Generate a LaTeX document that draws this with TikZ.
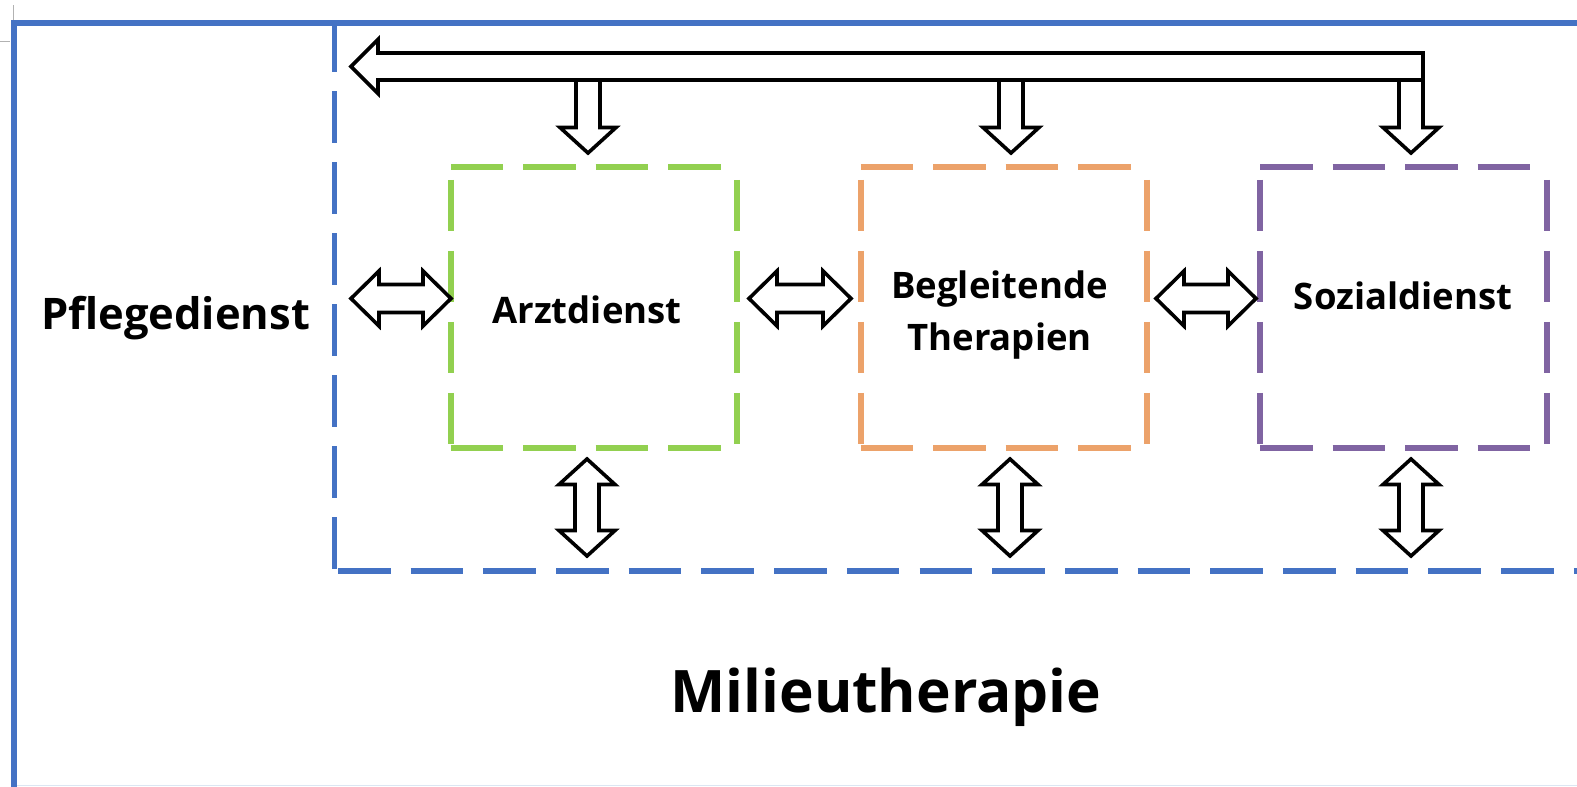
\documentclass[tikz,border=0pt]{standalone}
\usepackage{fontspec}
\setmainfont{Open Sans}
\usetikzlibrary{calc}
\definecolor{oblue}{RGB}{68,114,196}
\definecolor{ogreen}{RGB}{146,208,80}
\definecolor{oorange}{RGB}{236,162,106}
\definecolor{opurple}{RGB}{128,100,162}
\definecolor{faint}{RGB}{220,230,242}
% horizontal double arrow: head length, head half width, shaft half width
\def\ahl{28}\def\ahw{27.5}\def\asw{14}
% vertical arrows
\def\vhl{25.5}\def\vhw{28}\def\vsw{12}
\newcommand\dblH[2]{%
  \draw[blk] (#1) -- ($(#1)+(\ahl,-\ahw)$) -- ($(#1)+(\ahl,-\asw)$) -- ($(#2)+(-\ahl,-\asw)$)
    -- ($(#2)+(-\ahl,-\ahw)$) -- (#2) -- ($(#2)+(-\ahl,\ahw)$) -- ($(#2)+(-\ahl,\asw)$)
    -- ($(#1)+(\ahl,\asw)$) -- ($(#1)+(\ahl,\ahw)$) -- cycle;}
\newcommand\dblV[2]{%
  \draw[blk] (#1) -- ($(#1)+(\vhw,\vhl)$) -- ($(#1)+(\vsw,\vhl)$) -- ($(#2)+(\vsw,-\vhl)$)
    -- ($(#2)+(\vhw,-\vhl)$) -- (#2) -- ($(#2)+(-\vhw,-\vhl)$) -- ($(#2)+(-\vsw,-\vhl)$)
    -- ($(#1)+(-\vsw,\vhl)$) -- ($(#1)+(-\vhw,\vhl)$) -- cycle;}
\newcommand\downArr[2]{%
  \draw[blk] ($(#1)+(-\vsw,0)$) -- ($(#2)+(-\vsw,-\vhl)$) -- ($(#2)+(-\vhw,-\vhl)$) -- (#2)
    -- ($(#2)+(\vhw,-\vhl)$) -- ($(#2)+(\vsw,-\vhl)$) -- ($(#1)+(\vsw,0)$);}
\newcommand\mydashedbox[2]{%
  \draw[#2,hdash] (#1.north west) -- (#1.north east);
  \draw[#2,hdash] (#1.south west) -- (#1.south east);
  \draw[#2,vdash] ($(#1.north west)+(0,12.5)$) -- ($(#1.south west)+(0,-3.5)$);
  \draw[#2,vdash] ($(#1.north east)+(0,12.5)$) -- ($(#1.south east)+(0,-3.5)$);}
\begin{document}
\begin{tikzpicture}[x=1pt,y=-1pt,line cap=butt,
  hdash/.style={line width=6pt,dash pattern=on 52.6pt off 19.8pt},
  vdash/.style={line width=6pt,dash pattern=on 51.5pt off 19.5pt},
  blk/.style={draw=black,fill=white,line width=3.6pt,line join=miter},
  lbl/.style={font=\bfseries\fontsize{36.5}{52}\selectfont,inner sep=0pt,anchor=base},
  boxn/.style={minimum width=286pt,minimum height=280.5pt,inner sep=0pt,draw=none}]
\clip (0,0) rectangle (1577,787);
\fill[white] (0,0) rectangle (1577,787);
% page marks
\draw[gray!60,line width=1pt] (13.5,5) -- (13.5,20);
\draw[gray!60,line width=1pt] (0,41) -- (10,41);
\draw[faint,line width=1.5pt] (17,785.5) -- (1600,785.5);
% outer frame
\draw[oblue,line width=6pt,line join=miter] (1600,23) -- (14,23) -- (14,800);
% inner dashed area
\draw[oblue,line width=5.5pt,dash pattern=on 51.5pt off 19.5pt] (334.5,20) -- (334.5,571);
\draw[oblue,line width=6pt,dash pattern=on 52.6pt off 20.1pt] (337.9,571) -- (1600,571);
% boxes
\node[boxn] (arzt) at (594,307.75) {};
\node[boxn] (begl) at (1004,307.75) {};
\node[boxn] (sozial) at (1403.5,307.75) {};
\mydashedbox{arzt}{ogreen}
\mydashedbox{begl}{oorange}
\mydashedbox{sozial}{opurple}
% labels
\node[lbl] (arztT) at (587,323) {Arztdienst};
\node[lbl,align=center] (beglT) at (999.5,350) {Begleitende\\Therapien};
\node[lbl] (sozialT) at (1403,309) {Sozialdienst};
\node[lbl,font=\bfseries\fontsize{43.5}{52}\selectfont] (pflege) at (175.5,329.5) {Pflegedienst};
\node[lbl,font=\bfseries\fontsize{58.6}{72}\selectfont] (milieu) at (886,712) {Milieutherapie};
% horizontal double arrows
\coordinate (h1a) at (351,298.5); \coordinate (h1b) at (451,298.5);
\coordinate (h2a) at (749,298.5); \coordinate (h2b) at (851,298.5);
\coordinate (h3a) at (1156,298.5); \coordinate (h3b) at (1256,298.5);
\dblH{h1a}{h1b}
\dblH{h2a}{h2b}
\dblH{h3a}{h3b}
% bottom vertical double arrows
\coordinate (v1a) at (587,459); \coordinate (v1b) at (587,556);
\coordinate (v2a) at (1010,459); \coordinate (v2b) at (1010,556);
\coordinate (v3a) at (1411,459); \coordinate (v3b) at (1411,556);
\dblV{v1a}{v1b}
\dblV{v2a}{v2b}
\dblV{v3a}{v3b}
% top distributing arrow
\coordinate (d1a) at (588,80); \coordinate (d1b) at (588,153);
\coordinate (d2a) at (1011,80); \coordinate (d2b) at (1011,153);
\coordinate (d3a) at (1411,80); \coordinate (d3b) at (1411,153);
\downArr{d1a}{d1b}
\downArr{d2a}{d2b}
\downArr{d3a}{d3b}
\coordinate (ttip) at (351,66.5);
\coordinate (tend) at (1423,66.5);
\draw[blk] (ttip) -- ($(ttip)+(27,-27)$) -- ($(ttip)+(27,-13.5)$) -- ($(tend)+(0,-13.5)$)
  -- ($(tend)+(0,13.5)$) -- ($(ttip)+(27,13.5)$) -- ($(ttip)+(27,27)$) -- cycle;
\end{tikzpicture}
\end{document}
